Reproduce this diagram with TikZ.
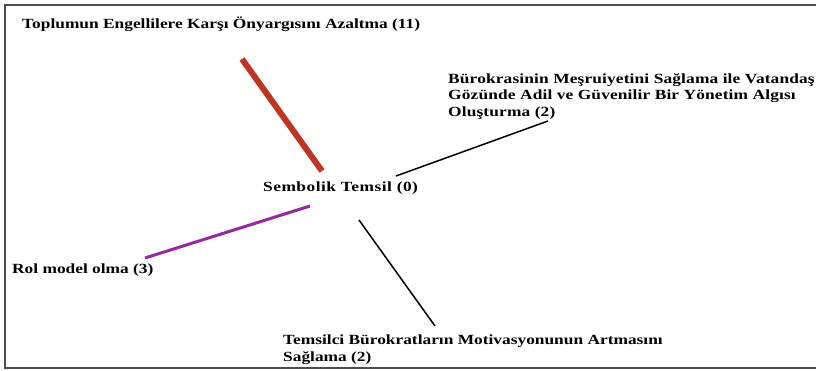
\documentclass[tikz,border=0pt]{standalone}
\usepackage{fontspec}
\setmainfont[FakeStretch=1.24]{Liberation Serif}
\newfontfamily\spacedfont[FakeStretch=1.24, LetterSpace=1]{Liberation Serif}
\newfontfamily\widefont[FakeStretch=1.24, LetterSpace=3.5]{Liberation Serif}
\usepackage{xcolor}
\definecolor{linkred}{RGB}{192,52,36}
\definecolor{linkpurple}{RGB}{150,40,160}

\begin{document}
\begin{tikzpicture}[
    x=1pt, y=-1pt,
    label/.style={anchor=base west, inner sep=0pt, align=left, font=\fontsize{14}{17}\selectfont\bfseries},
    spaced/.style={label, font=\fontsize{14}{16.5}\selectfont\spacedfont\bfseries},
    wide/.style={label, font=\fontsize{14}{17}\selectfont\widefont\bfseries},
    link/.style={line cap=butt}
]
    \useasboundingbox (0,0) rectangle (816,370);
    % Frame
    \draw[line width=2pt, black!70] (5,5) rectangle (840,368);
    % Labels (base = last line)
    \node[label] (top) at (22,28) {Toplumun Engellilere Karşı Önyargısını Azaltma (11)};
    \node[spaced] (bur) at (448,116) {Bürokrasinin Meşruiyetini Sağlama ile Vatandaş\\Gözünde Adil ve Güvenilir Bir Yönetim Algısı\\Oluşturma (2)};
    \node[wide] (sem) at (263,191) {Sembolik Temsil (0)};
    \node[label] (rol) at (12,273) {Rol model olma (3)};
    \node[label] (tem) at (283,361) {Temsilci Bürokratların Motivasyonunun Artmasını\\Sağlama (2)};
    % Line ends
    \coordinate (sem-top) at (322,171);
    \coordinate (top-end) at (242,59);
    \coordinate (sem-bur) at (396,176);
    \coordinate (bur-end) at (548,121);
    \coordinate (sem-rol) at (310,206);
    \coordinate (rol-end) at (145,258);
    \coordinate (sem-tem) at (359,220);
    \coordinate (tem-end) at (435,326);
    % Links
    \draw[link, line width=6pt, linkred] (sem-top) -- (top-end);
    \draw[link, line width=1.5pt] (sem-bur) -- (bur-end);
    \draw[link, line width=3pt, linkpurple] (sem-rol) -- (rol-end);
    \draw[link, line width=1.5pt] (sem-tem) -- (tem-end);
\end{tikzpicture}
\end{document}
